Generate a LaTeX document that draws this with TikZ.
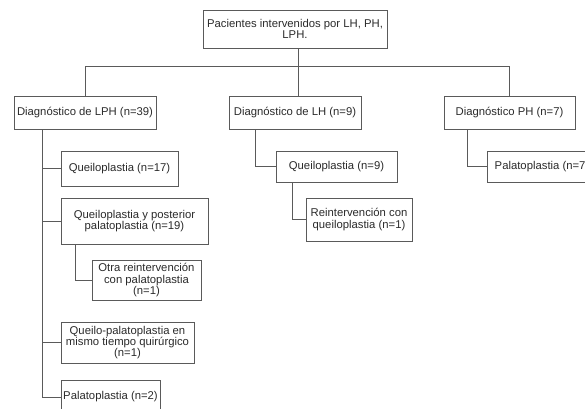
\documentclass[tikz,border=0pt]{standalone}
\usepackage{fontspec}
\setmainfont{Liberation Sans}
\usepackage{xcolor}
\usepackage{tikz}
\usetikzlibrary{positioning, calc}

\definecolor{linegray}{HTML}{5A5A5A}
\definecolor{textgray}{HTML}{2A2A2A}

\tikzset{
  caja/.style={draw=linegray, line width=0.8pt, rectangle, align=center,
    inner sep=2pt, text=textgray, font=\fontsize{11.3}{11.3}\selectfont},
  rama/.style={draw=linegray, line width=0.8pt}
}

\begin{document}
\begin{tikzpicture}[x=1pt, y=-1pt]
  \useasboundingbox (0,0) rectangle (585,408);
  \clip (0,0) rectangle (585,408);
  % Nivel superior
  \node[caja, minimum width=184pt, minimum height=38pt] (root) at (295,29)
       {Pacientes intervenidos por LH, PH,\\LPH.};
  % Diagnosticos
  \node[caja, minimum width=142pt, minimum height=33pt] (lph) at (85,112.5) {Diagnóstico de LPH (n=39)};
  \node[caja, minimum width=132pt, minimum height=33pt] (lh) at (295,112.5) {Diagnóstico de LH (n=9)};
  \node[caja, minimum width=131pt, minimum height=33pt] (ph) at (509.5,112.5) {Diagnóstico PH (n=7)};
  % Rama LPH
  \node[caja, minimum width=117pt, minimum height=35pt] (q17) at (119.5,168.5) {Queiloplastia (n=17)};
  \node[caja, minimum width=147pt, minimum height=46pt] (qyp) at (134.5,221) {Queiloplastia y posterior\\palatoplastia (n=19)};
  \node[caja, minimum width=109pt, minimum height=40pt] (otra) at (146.5,280) {Otra reintervención\\con palatoplastia\\(n=1)};
  \node[caja, minimum width=133pt, minimum height=41pt] (qpal) at (127.5,342.5) {Queilo-palatoplastia en\\mismo tiempo quirúrgico\\(n=1)};
  \node[caja, minimum width=99pt, minimum height=34pt] (pal2) at (110.5,397) {Palatoplastia (n=2)};
  % Rama LH
  \node[caja, minimum width=121pt, minimum height=31pt] (q9) at (336.5,166.5) {Queiloplastia (n=9)};
  \node[caja, minimum width=106pt, minimum height=43pt] (reint) at (359,219.5) {Reintervención con\\queiloplastia (n=1)};
  % Rama PH
  \node[caja, minimum width=110pt, minimum height=31pt] (pal7) at (542,166.5) {Palatoplastia (n=7)};

  % Conectores
  \coordinate (bus) at (0,66);
  \coordinate (troot) at (298,0);
  \coordinate (tlph) at (42,0);
  \coordinate (tqyp) at (75,0);
  \coordinate (tlh) at (255,0);
  \coordinate (tq9) at (292,0);
  \coordinate (tph) at (467,0);
  \draw[rama] (lph.north) |- (bus -| ph.north) -- (ph.north);
  \draw[rama] (root.south -| troot) -- (lh.north -| troot);
  \draw[rama] (lph.south -| tlph) |- (pal2.west);
  \draw[rama] (q17.west -| tlph) -- (q17.west);
  \draw[rama] (qyp.west -| tlph) -- (qyp.west);
  \draw[rama] (qpal.west -| tlph) -- (qpal.west);
  \draw[rama] (qyp.south -| tqyp) |- (otra.west);
  \draw[rama] (lh.south -| tlh) |- (q9.west);
  \draw[rama] (q9.south -| tq9) |- (reint.west);
  \draw[rama] (ph.south -| tph) |- (pal7.west);
\end{tikzpicture}
\end{document}
